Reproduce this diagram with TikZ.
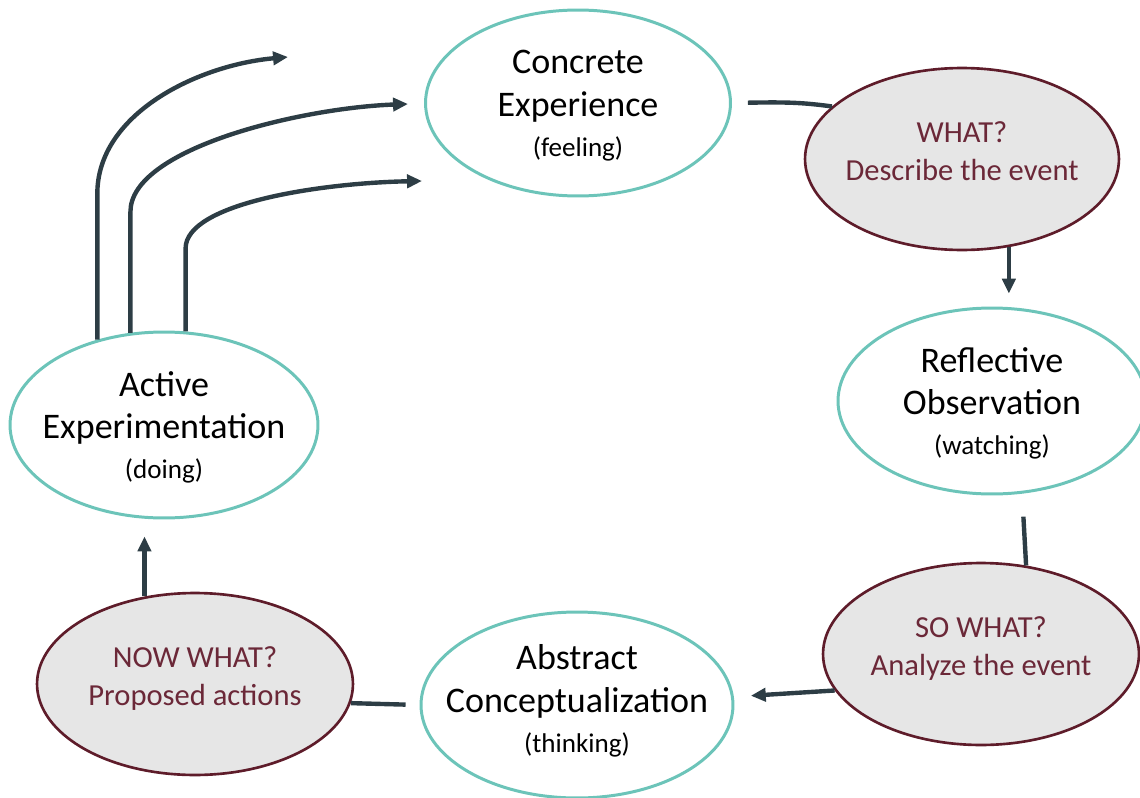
\documentclass[tikz,border=0pt]{standalone}
\usepackage{fontspec}
\setmainfont{Carlito}
\usetikzlibrary{shapes.geometric,arrows.meta}
\definecolor{tealline}{RGB}{108,196,185}
\definecolor{wine}{RGB}{94,28,42}
\definecolor{winetext}{RGB}{107,40,56}
\definecolor{greyfill}{RGB}{230,230,230}
\definecolor{slate}{RGB}{45,61,69}
\newcommand{\modetext}[1]{{\fontsize{15.4}{18}\selectfont #1}}
\tikzset{
	stage/.style={ellipse,draw=tealline,line width=1.7pt,fill=white,minimum width=6.16cm,minimum height=3.72cm,inner sep=0pt},
	quest/.style={ellipse,draw=wine,line width=1.5pt,fill=greyfill,minimum width=6.32cm,minimum height=3.64cm,inner sep=0pt},
	stagetext/.style={align=center,font=\fontsize{20.5}{24.4}\selectfont,text depth=0pt},
	questtext/.style={align=center,font=\fontsize{17.4}{21.5}\selectfont,text=winetext,text depth=0pt,yshift=4.5pt},
	link/.style={draw=slate,line width=2.5pt},
	arrow/.style={link,-{Triangle[length=8.5pt,width=7.5pt]}}
}
\begin{document}
\begin{tikzpicture}[x=0.02cm,y=-0.02cm]
		\useasboundingbox (0,0) rectangle (1140,798);
		%环节
		\draw (578,103) node[stage,minimum width=6.1cm](e-1){} (992,401) node[stage](e-2){};
		\draw (577,705) node[stage,minimum width=6.24cm](e-3){} (164,425) node[stage](e-4){};
		%问题
		\draw (962,159) node[quest,minimum width=6.28cm](q-1){} (981,654) node[quest](q-2){};
		\draw (195,684) node[quest](q-3){};
		%文字
		\draw (e-1) node[stagetext](l-1){Concrete\\Experience\\[-1.7pt]\modetext{(feeling)}};
		\draw (e-2) node[stagetext](l-2){Reflective\\Observation\\[-1.7pt]\modetext{(watching)}};
		\draw (e-3) node[stagetext,yshift=3.6pt](l-3){Abstract\\Conceptualization\\[-1.7pt]\modetext{(thinking)}};
		\draw (e-4) node[stagetext](l-4){Active\\Experimentation\\[-1.7pt]\modetext{(doing)}};
		\draw (q-1) node[questtext](l-5){WHAT?\\Describe the event};
		\draw (q-2) node[questtext](l-6){SO WHAT?\\Analyze the event};
		\draw (q-3) node[questtext](l-7){NOW WHAT?\\Proposed actions};
		%连线
		\draw[link,shorten <=0.32cm] (e-1.east) .. controls +(55,-1) and +(-30,-4) .. (q-1.158);
		\draw[arrow,shorten >=0.26cm] (q-1.-62) -- (q-1.-62 |- e-2.north);
		\draw[link,shorten <=0.46cm] (e-2.-72) -- (q-2.63);
		\draw[arrow,shorten >=0.34cm] (q-2.194) -- (e-3.3);
		\draw[link,shorten <=0.28cm] (e-3.west) -- (q-3.-7);
		\draw[arrow,shorten >=0.34cm] (q-3.120) -- (q-3.120 |- e-4.south);
		%回到具体经验
		\coordinate (t-1) at (288,57);
		\coordinate (t-2) at (408,104);
		\coordinate (t-3) at (422,181);
		\draw[arrow] (e-4.128) -- ++(0,-146) .. controls +(0,-80) and +(-90,8) .. (t-1);
		\draw[arrow] (e-4.110) -- ++(0,-121) .. controls +(0,-63) and +(-108,4) .. (t-2);
		\draw[arrow] (e-4.77) -- ++(0,-83) .. controls +(0,-45) and +(-102,2) .. (t-3);
\end{tikzpicture}
\end{document}
